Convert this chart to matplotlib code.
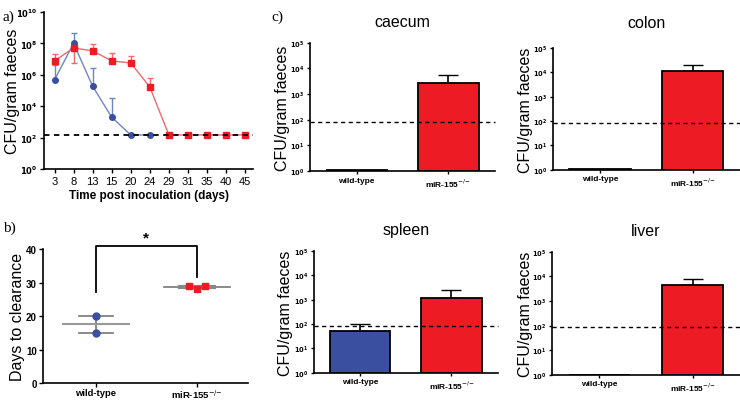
import matplotlib
matplotlib.use("Agg")
import matplotlib.pyplot as plt
import numpy as np

plt.rcParams['font.family'] = ['Liberation Sans', 'DejaVu Sans']

BLUE = '#3a4fa0'
BLUE_LINE = '#6f86c4'
RED = '#ed1c24'
RED_LINE = '#f06a6e'

# ---- panel a: time course (log10 CFU/gram)
days = ['3', '8', '13', '15', '20', '24', '29', '31', '35', '40', '45']
wt_log = [5.67, 8.0, 5.27, 3.3, 2.17, 2.17]
wt_err_up = [6.6, 8.66, 6.4, 4.5, 2.17, 2.17]
ko_log = [6.88, 7.7, 7.52, 6.88, 6.75, 5.22, 2.17, 2.17, 2.17, 2.17, 2.17]
ko_err_up = [7.3, 7.7, 7.96, 7.39, 7.2, 5.8, 2.17, 2.17, 2.17, 2.17, 2.17]
ko_err_lo = [6.88, 6.75, 7.52, 6.88, 6.75, 5.22, 2.17, 2.17, 2.17, 2.17, 2.17]
limit_a = 150

# ---- panel b: days to clearance
groups = ['wild-type', 'miR-155$^{{-}/{-}}$']
wt_days = [20, 15]
ko_days = [29, 28, 29]

# ---- panel c: organ CFU
organs = ['caecum', 'colon', 'spleen', 'liver']
organ_wt = [1.06, 1.06, 52, 1.0]
organ_wt_err = [0, 0, 48, 0]
organ_ko = [2.8e3, 1.15e4, 1.2e3, 4.3e3]
organ_ko_err = [2.8e3, 0.85e4, 1.3e3, 3.8e3]
limit_c = 85

fig = plt.figure(figsize=(7.4, 4.02), dpi=100)


def style_spines(ax):
    for s in ['top', 'right']:
        ax.spines[s].set_visible(False)
    for s in ['left', 'bottom']:
        ax.spines[s].set_linewidth(1.2)


# panel a
ax = fig.add_axes([0.0595, 0.577, 0.2825, 0.391])
xa = np.arange(len(days))
xw = xa[:len(wt_log)]
ax.plot(xw, 10 ** np.array(wt_log), color=BLUE_LINE, lw=1, zorder=2)
ax.plot(xa, 10 ** np.array(ko_log), color=RED_LINE, lw=1, zorder=2)
for i in range(len(wt_log)):
    if wt_err_up[i] > wt_log[i]:
        ax.errorbar(xw[i], 10 ** wt_log[i],
                    yerr=[[0], [10 ** wt_err_up[i] - 10 ** wt_log[i]]],
                    color=BLUE_LINE, lw=1, capsize=2.5, zorder=2)
for i in range(len(ko_log)):
    lo = 10 ** ko_log[i] - 10 ** ko_err_lo[i]
    hi = 10 ** ko_err_up[i] - 10 ** ko_log[i]
    if lo > 0 or hi > 0:
        ax.errorbar(xa[i], 10 ** ko_log[i], yerr=[[lo], [hi]],
                    color=RED_LINE, lw=1, capsize=2.5, zorder=2)
ax.plot(xw, 10 ** np.array(wt_log), 'o', color=BLUE, ms=4, zorder=3)
ax.plot(xa, 10 ** np.array(ko_log), 's', color=RED, ms=5, zorder=4)
ax.axhline(limit_a, color='black', ls=(0, (3, 2.5)), lw=1.3, zorder=5)
ax.set_yscale('log')
ax.set_ylim(1, 1e10)
ax.set_yticks([1, 1e2, 1e4, 1e6, 1e8, 1e10])
ax.set_yticklabels([r'$\mathbf{10^{%d}}$' % k for k in [0, 2, 4, 6, 8, 10]], fontsize=6)
ax.minorticks_off()
ax.set_xlim(-0.55, 10.42)
ax.set_xticks(xa)
ax.set_xticklabels(days, fontsize=8)
ax.set_xlabel('Time post inoculation (days)', fontsize=8.5, fontweight='bold', labelpad=2)
ax.set_ylabel('CFU/gram faeces', fontsize=11.5)
ax.yaxis.set_label_coords(-0.115, 0.5)
ax.tick_params(length=3, width=1, pad=2)
style_spines(ax)

# panel b
ax = fig.add_axes([0.058, 0.0448, 0.277, 0.333])
ax.plot([0, 0], [min(wt_days), max(wt_days)], color='#777777', lw=1.2, zorder=1)
for v in wt_days:
    ax.plot([-0.17, 0.17], [v, v], color='#777777', lw=1.2, zorder=1)
ax.plot([-0.33, 0.33], [np.mean(wt_days), np.mean(wt_days)], color='#999999', lw=1.5, zorder=1)
ax.plot(np.zeros(len(wt_days)), wt_days, 'o', color=BLUE, ms=5, zorder=3)
ax.plot([0.67, 1.33], [np.mean(ko_days), np.mean(ko_days)], color='#777777', lw=1.2, zorder=1)
ax.plot([0.83, 1.17], [np.mean(ko_days), np.mean(ko_days)], color='#888888', lw=3, zorder=1)
ax.plot([0.92, 1.0, 1.08], ko_days, 's', color=RED, ms=5, zorder=3)
ax.plot([0, 0, 1, 1], [27.2, 41, 41, 31.6], color='black', lw=1.3, clip_on=False)
ax.text(0.5, 41.5, '*', ha='center', va='bottom', fontsize=11, fontweight='bold')
ax.set_ylim(0, 40)
ax.set_yticks([0, 10, 20, 30, 40])
ax.set_yticklabels(['0', '10', '20', '30', '40'], fontsize=7, fontweight='bold')
ax.set_xlim(-0.525, 1.505)
ax.set_xticks([0, 1])
ax.set_xticklabels(groups, fontsize=6.8, fontweight='bold')
ax.set_ylabel('Days to clearance', fontsize=11.5)
ax.yaxis.set_label_coords(-0.088, 0.5)
ax.tick_params(axis='y', length=3, width=1, pad=1.5)
ax.tick_params(axis='x', length=3, width=1, pad=0.5)
style_spines(ax)

# panel c
boxes = [[0.419, 0.572, 0.250, 0.319],
         [0.747, 0.575, 0.253, 0.303],
         [0.424, 0.070, 0.249, 0.303],
         [0.746, 0.065, 0.254, 0.306]]
label_x = [-0.108, -0.106, -0.114, -0.101]
title_pad = [12, 15.5, 12, 12]
for k, name in enumerate(organs):
    ax = fig.add_axes(boxes[k])
    ax.bar([0], [organ_wt[k] - 1], bottom=1, width=0.66, color=BLUE,
           edgecolor='black', lw=1.3, zorder=2)
    if organ_wt_err[k] > 0:
        ax.errorbar([0], [organ_wt[k]], yerr=[[0], [organ_wt_err[k]]],
                    color='black', lw=1.2, capsize=7, zorder=1)
    ax.bar([1], [organ_ko[k] - 1], bottom=1, width=0.66, color=RED,
           edgecolor='black', lw=1.3, zorder=2)
    ax.errorbar([1], [organ_ko[k]], yerr=[[0], [organ_ko_err[k]]],
                color='black', lw=1.2, capsize=7, zorder=1)
    ax.axhline(limit_c, color='black', ls=(0, (3, 2.5)), lw=1, zorder=3, clip_on=False)
    ax.set_yscale('log')
    ax.set_ylim(1, 1e5)
    ax.set_yticks([1, 10, 1e2, 1e3, 1e4, 1e5])
    ax.set_yticklabels([r'$\mathbf{10^{%d}}$' % e for e in range(6)], fontsize=4.8)
    ax.minorticks_off()
    ax.set_xlim(-0.51, 1.51)
    ax.set_xticks([0, 1])
    ax.set_xticklabels(groups, fontsize=6, fontweight='bold')
    ax.set_ylabel('CFU/gram faeces', fontsize=11.5)
    ax.yaxis.set_label_coords(label_x[k], 0.5)
    ax.set_title(name, fontsize=11.5, pad=title_pad[k])
    ax.tick_params(length=2.5, width=1, pad=1.5)
    style_spines(ax)

fig.text(0.004, 0.975, 'a)', fontsize=11, family='Liberation Serif', va='top')
fig.text(0.004, 0.45, 'b)', fontsize=11, family='Liberation Serif', va='top')
fig.text(0.367, 0.975, 'c)', fontsize=11, family='Liberation Serif', va='top')

fig.savefig('out.png', dpi=100)
